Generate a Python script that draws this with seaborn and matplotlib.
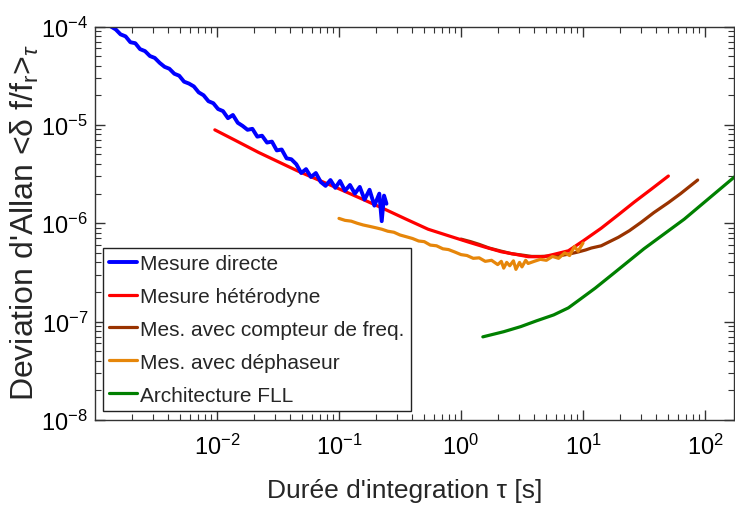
import numpy as np
import pandas as pd
import matplotlib
matplotlib.use("Agg")
import matplotlib.pyplot as plt
import seaborn as sns

# Allan deviation curves: integration time tau [s] and deviation values
tau_direct = [1.35e-3, 1.48e-3, 1.62e-3, 1.78e-3, 1.95e-3, 2.14e-3, 2.34e-3, 2.57e-3,
              2.82e-3, 3.09e-3, 3.39e-3, 3.72e-3, 4.07e-3, 4.47e-3, 4.90e-3, 5.37e-3,
              5.89e-3, 6.46e-3, 7.08e-3, 7.76e-3, 8.51e-3, 9.33e-3, 1.02e-2, 1.12e-2,
              1.23e-2, 1.35e-2, 1.48e-2, 1.62e-2, 1.78e-2, 1.95e-2, 2.14e-2, 2.34e-2,
              2.57e-2, 2.82e-2, 3.09e-2, 3.39e-2, 3.72e-2, 4.07e-2, 4.47e-2, 4.90e-2,
              5.37e-2, 5.89e-2, 6.46e-2, 7.08e-2, 7.76e-2, 8.51e-2, 9.33e-2, 0.102,
              0.112, 0.123, 0.135, 0.148, 0.162, 0.178, 0.195, 0.214, 0.224, 0.234, 0.245]
adev_direct = [1.00e-4, 9.33e-5, 8.32e-5, 7.94e-5, 6.92e-5, 6.76e-5, 5.89e-5, 5.62e-5,
               5.01e-5, 4.79e-5, 4.27e-5, 3.89e-5, 3.72e-5, 3.31e-5, 3.16e-5, 2.75e-5,
               2.63e-5, 2.46e-5, 2.14e-5, 2.00e-5, 1.74e-5, 1.66e-5, 1.45e-5, 1.38e-5,
               1.17e-5, 1.26e-5, 1.05e-5, 9.77e-6, 8.91e-6, 9.12e-6, 7.59e-6, 7.76e-6,
               6.61e-6, 6.76e-6, 5.50e-6, 5.62e-6, 4.57e-6, 4.47e-6, 3.98e-6, 3.24e-6,
               3.55e-6, 2.95e-6, 3.24e-6, 2.63e-6, 2.40e-6, 2.75e-6, 2.29e-6, 2.69e-6,
               2.14e-6, 2.45e-6, 2.00e-6, 2.34e-6, 1.74e-6, 2.19e-6, 1.51e-6, 2.00e-6,
               1.05e-6, 1.91e-6, 1.58e-6]

tau_hetero = [9.6e-3, 1.4e-2, 2.19e-2, 3.2e-2, 4.61e-2, 6.8e-2, 0.100, 0.152, 0.234,
              0.355, 0.537, 0.78, 1.14, 1.55, 2.14, 2.8, 3.55, 4.79, 5.9, 7.59, 10.0,
              14.1, 19.5, 26.3, 36.3, 50.1]
adev_hetero = [8.9e-6, 7.0e-6, 5.25e-6, 4.2e-6, 3.39e-6, 2.75e-6, 2.24e-6, 1.78e-6,
               1.40e-6, 1.10e-6, 8.7e-7, 7.5e-7, 6.46e-7, 5.75e-7, 5.13e-7, 4.83e-7,
               4.57e-7, 4.57e-7, 4.86e-7, 5.25e-7, 6.6e-7, 8.9e-7, 1.22e-6, 1.64e-6,
               2.22e-6, 3.02e-6]

tau_counter = [1.00, 1.20, 1.41, 1.70, 2.14, 2.6, 3.16, 3.8, 4.5, 5.6, 6.6, 7.6, 9.1,
               10.5, 11.7, 14.1, 19.5, 24.0, 29.9, 38.0, 50.1, 63.1, 87.1]
adev_counter = [6.9e-7, 6.5e-7, 6.1e-7, 5.6e-7, 5.2e-7, 4.9e-7, 4.75e-7, 4.6e-7, 4.6e-7,
                4.65e-7, 4.7e-7, 4.85e-7, 5.1e-7, 5.35e-7, 5.6e-7, 5.9e-7, 7.2e-7, 8.4e-7,
                1.02e-6, 1.28e-6, 1.62e-6, 2.0e-6, 2.75e-6]

tau_phase = [0.100, 0.112, 0.126, 0.141, 0.158, 0.178, 0.200, 0.224, 0.251, 0.282, 0.316,
             0.355, 0.40, 0.45, 0.50, 0.56, 0.63, 0.71, 0.79, 0.89, 1.00, 1.12, 1.26,
             1.41, 1.58, 1.78, 2.00, 2.14, 2.24, 2.37, 2.51, 2.69, 2.82, 3.02, 3.16,
             3.39, 3.55, 3.98, 4.47, 5.01, 5.62, 6.31, 7.08, 7.76, 8.51, 9.12, 10.0]
adev_phase = [1.12e-6, 1.07e-6, 1.05e-6, 1.00e-6, 9.6e-7, 9.3e-7, 9.0e-7, 8.7e-7, 8.3e-7,
              8.1e-7, 7.6e-7, 7.3e-7, 7.0e-7, 6.6e-7, 6.5e-7, 6.0e-7, 5.9e-7, 5.5e-7,
              5.4e-7, 5.1e-7, 4.8e-7, 4.7e-7, 4.4e-7, 4.45e-7, 4.1e-7, 4.2e-7, 3.8e-7,
              4.1e-7, 3.5e-7, 4.0e-7, 3.7e-7, 4.15e-7, 3.4e-7, 4.0e-7, 3.6e-7, 4.2e-7,
              3.9e-7, 4.1e-7, 4.3e-7, 4.2e-7, 4.6e-7, 4.4e-7, 5.0e-7, 4.7e-7, 5.8e-7,
              5.2e-7, 6.3e-7]

tau_fll = [1.51, 2.24, 3.09, 4.17, 5.75, 7.59, 9.55, 12.6, 17.8, 31.6, 67.6, 178.0]
adev_fll = [7.0e-8, 7.9e-8, 8.9e-8, 1.02e-7, 1.17e-7, 1.38e-7, 1.70e-7, 2.19e-7, 3.09e-7,
            5.50e-7, 1.10e-6, 3.02e-6]

labels = ["Mesure directe", "Mesure hétérodyne", "Mes. avec compteur de freq.",
          "Mes. avec déphaseur", "Architecture FLL"]
colors = ["#0000ff", "#ff0000", "#993300", "#e6860a", "#008000"]
widths = [2.8, 2.3, 2.3, 2.3, 2.3]
series = [(tau_direct, adev_direct), (tau_hetero, adev_hetero),
          (tau_counter, adev_counter), (tau_phase, adev_phase), (tau_fll, adev_fll)]
# drawing order: green underneath, then the measurement curves
draw_order = [4, 2, 1, 3, 0]

sns.set_style("ticks")
plt.rcParams["font.family"] = ["Liberation Sans", "DejaVu Sans"]
plt.rcParams["mathtext.fontset"] = "custom"
plt.rcParams["mathtext.rm"] = "Liberation Sans"
plt.rcParams["mathtext.it"] = "Liberation Sans:italic"
plt.rcParams["mathtext.sf"] = "Liberation Sans"
plt.rcParams["axes.edgecolor"] = "#333333"
plt.rcParams["axes.linewidth"] = 1.0

fig = plt.figure(figsize=(7.35, 5.06), dpi=100)
ax = fig.add_axes([95 / 735, 1 - 421 / 506, 1 - 95 / 735 - 0.001, (421 - 27.5) / 506])

frames = []
for i, (t, a) in enumerate(series):
    frames.append(pd.DataFrame({"tau": t, "adev": a, "curve": labels[i]}))
df = pd.concat(frames, ignore_index=True)

for i in draw_order:
    sub = df[df["curve"] == labels[i]]
    sns.lineplot(data=sub, x="tau", y="adev", color=colors[i], lw=widths[i],
                 estimator=None, sort=False, ax=ax, label=labels[i])

ax.set_xscale("log")
ax.set_yscale("log")
ax.set_xlim(1e-3, 10 ** 2.24)
ax.set_ylim(1e-8, 1e-4)

ax.tick_params(which="both", direction="in", top=True, right=True, colors="#333333",
               labelcolor="black")
ax.tick_params(which="major", length=7, width=1, labelsize=17, pad=10)
ax.tick_params(which="minor", length=4, width=0.8)
ax.tick_params(axis="y", which="major", pad=5)
ax.set_yticks([1e-8, 1e-7, 1e-6, 1e-5, 1e-4])
ax.set_xticks([1e-2, 1e-1, 1e0, 1e1, 1e2])

ax.set_xlabel("Durée d'integration τ [s]", fontsize=19)
ax.set_ylabel(r"Deviation d'Allan <δ f/f$_{\mathrm{r}}$>$_{\tau}$", fontsize=23)
ax.xaxis.set_label_coords(0.484, -0.148)
ax.yaxis.set_label_coords(-0.085, 0.505)

h, l = ax.get_legend_handles_labels()
order = [l.index(name) for name in labels]
leg = ax.legend([h[k] for k in order], [l[k] for k in order],
                loc="lower left", bbox_to_anchor=(0.0125, 0.023), borderaxespad=0,
                fontsize=15, frameon=True, fancybox=False, edgecolor="#222222",
                framealpha=1, handlelength=1.35, handletextpad=0.15, labelspacing=0.67,
                borderpad=0.3)
leg.get_frame().set_linewidth(1.0)

fig.savefig("out.png", dpi=100)
